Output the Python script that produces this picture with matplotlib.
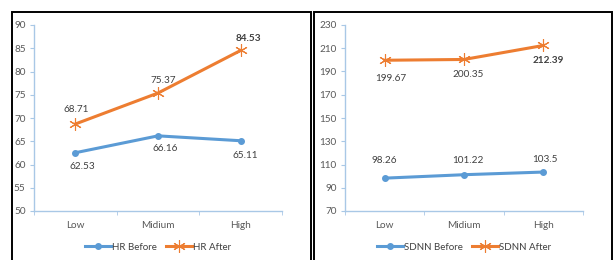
import matplotlib.pyplot as plt
from matplotlib.lines import Line2D

categories = ['Low', 'Midium', 'High']
hr_before = [62.53, 66.16, 65.11]
hr_after = [68.71, 75.37, 84.53]
sdnn_before = [98.26, 101.22, 103.5]
sdnn_after = [199.67, 200.35, 212.39]

blue = '#5B9BD5'
orange = '#ED7D31'
axcol = '#A9C8E6'
txtcol = '#404040'
W, H = 614, 260

plt.rcParams['font.family'] = ['Lato', 'DejaVu Sans']

fig = plt.figure(figsize=(W / 100, H / 100), dpi=100)
fig.patch.set_facecolor('white')

# panel frames (bottom runs off the image)
top = 1 - 11.5 / H
for x0, x1 in [(11.5, 310.5), (313.5, 611.5)]:
    fig.add_artist(Line2D([x0 / W, x0 / W, x1 / W, x1 / W], [-0.1, top, top, -0.1],
                          transform=fig.transFigure, color='black', lw=1.4,
                          solid_joinstyle='miter', zorder=5))


def panel(left, right, before, after, names, ylim, step, after_off, before_off):
    ax = fig.add_axes([left / W, 1 - 211 / H, (right - left) / W, (211 - 25) / H])
    x = range(len(categories))
    ax.plot(x, before, color=blue, lw=2.2, marker='o', ms=4, label=names[0])
    ax.plot(x, after, color=orange, lw=2.2, marker=(6, 2, 0), ms=9,
            mew=0.8, mec=orange, label=names[1])
    ax.set_xlim(-0.5, 2.5)
    ax.set_ylim(*ylim)
    ax.set_yticks(range(ylim[0], ylim[1] + 1, step))
    ax.set_xticks(list(x))
    ax.set_xticklabels(categories)
    ax.set_xticks([-0.5, 0.5, 1.5, 2.5], minor=True)
    ax.tick_params(axis='x', which='major', length=0, pad=7)
    ax.tick_params(axis='x', which='minor', length=3, color=axcol, direction='out')
    ax.tick_params(axis='y', length=3, color=axcol, direction='out', pad=3)
    ax.tick_params(labelsize=7.2, labelcolor='#595959')
    for s in ['top', 'right']:
        ax.spines[s].set_visible(False)
    for s in ['left', 'bottom']:
        ax.spines[s].set_color(axcol)
        ax.spines[s].set_linewidth(1)
    for i in x:
        bold = 'bold' if i == 2 else 'normal'
        ax.annotate(f'{after[i]:g}', (i, after[i]), xytext=after_off[i],
                    textcoords='offset pixels', ha='center', va='center',
                    fontsize=7.2, color=txtcol, fontweight=bold)
        ax.annotate(f'{before[i]:g}', (i, before[i]), xytext=before_off[i],
                    textcoords='offset pixels', ha='center', va='center',
                    fontsize=7.2, color=txtcol)
    ax.legend(loc='center', bbox_to_anchor=(0.5, -0.195), ncol=2, frameon=False,
              fontsize=7, labelcolor=txtcol, handlelength=2.7, handletextpad=0.05,
              columnspacing=1.0)
    return ax


panel(34, 282, hr_before, hr_after, ['HR Before', 'HR After'], (50, 90), 5,
      [(1, 14), (5, 13), (8, 12)], [(7, -14), (7, -13), (5, -15)])
panel(345, 583, sdnn_before, sdnn_after, ['SDNN Before', 'SDNN After'], (70, 230), 20,
      [(6, -18), (4, -15), (5, -15)], [(0, 18), (4, 14), (2, 13)])

fig.savefig('out.png', dpi=100)
